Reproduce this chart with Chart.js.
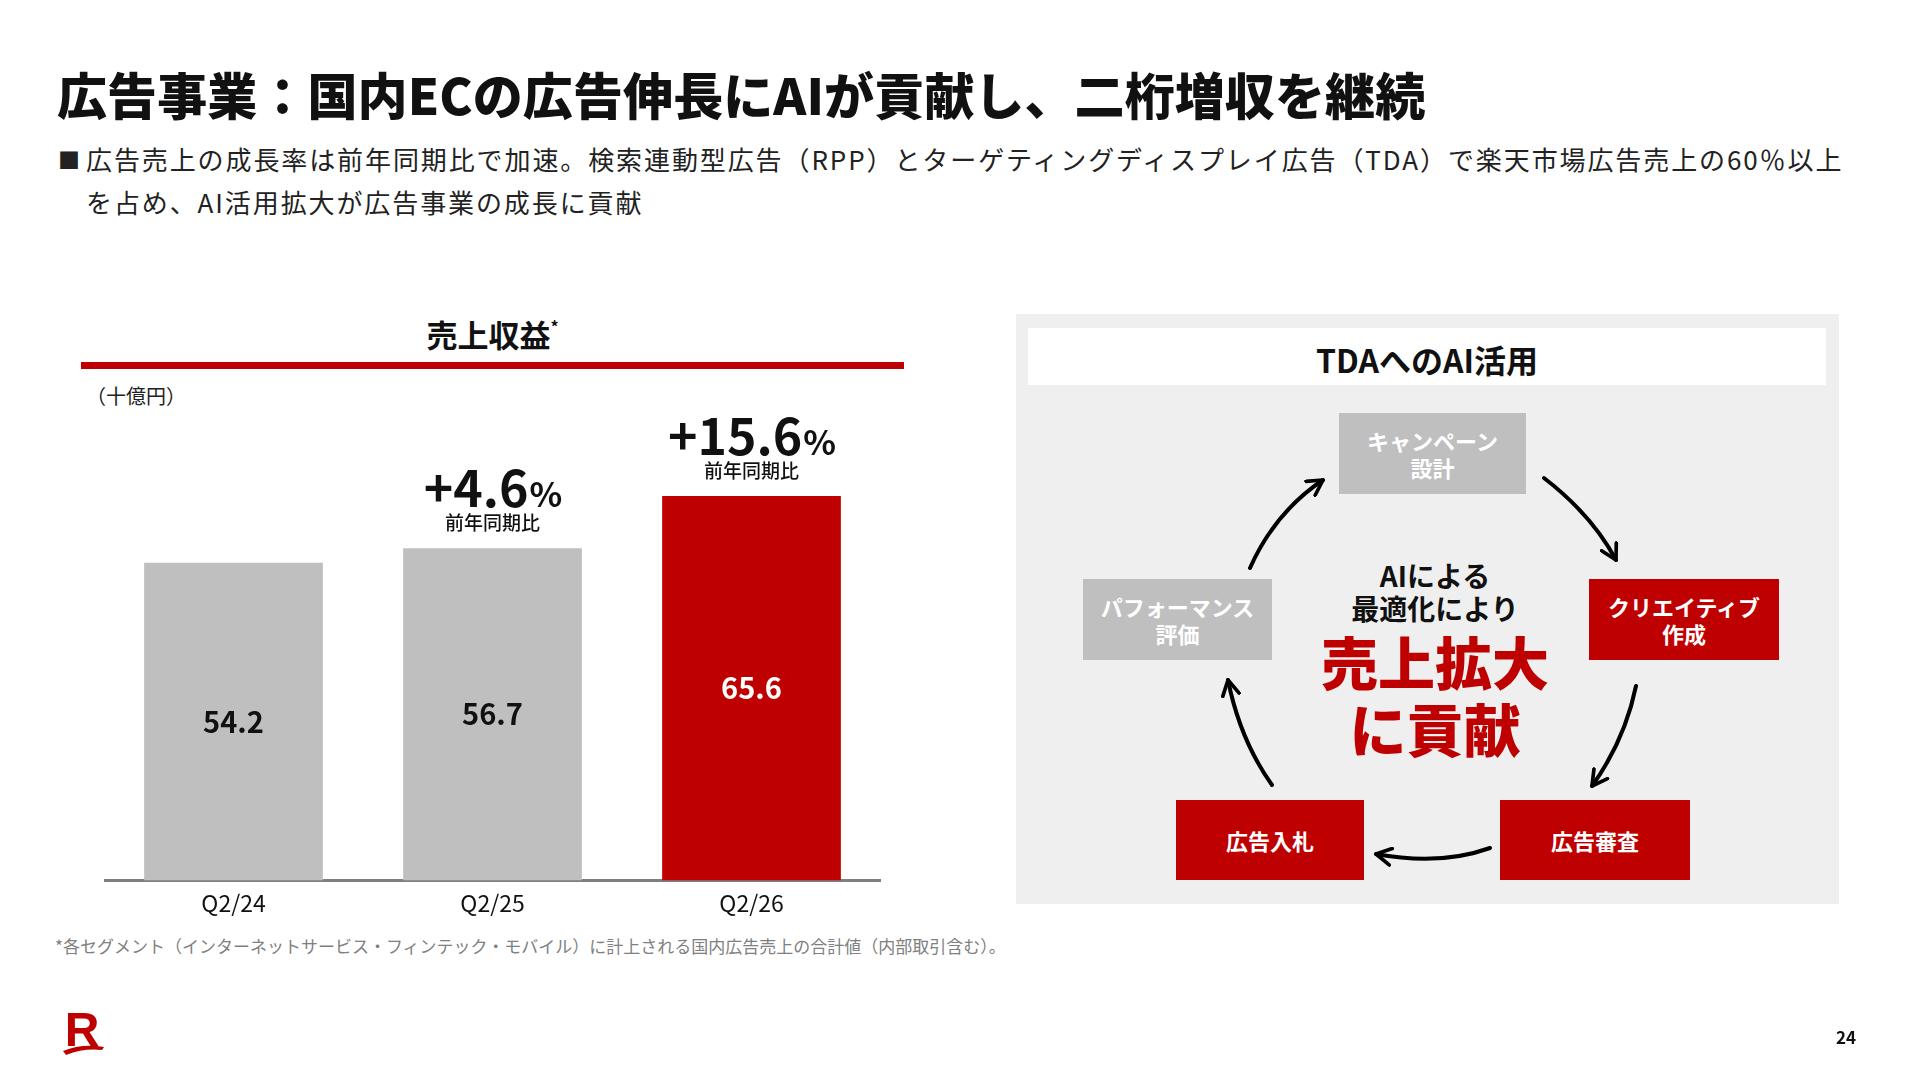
<!DOCTYPE html>
<html lang="ja">
<head>
<meta charset="utf-8">
<script src="https://cdn.jsdelivr.net/npm/chart.js@4.4.1/dist/chart.umd.min.js"></script>
<style>
  html, body { margin: 0; padding: 0; }
  body {
    width: 1920px; height: 1080px; position: relative; overflow: hidden;
    background: #fff; color: #111;
    font-family: "Noto Sans CJK JP", "Noto Sans", sans-serif;
  }
  .abs { position: absolute; }
  #title { left: 57px; top: 57px; font-size: 50px; font-weight: 900; white-space: nowrap; letter-spacing: 0.1px; }
  #lead { left: 58px; top: 137px; width: 1820px; font-size: 26px; line-height: 43px; letter-spacing: 1.9px; color: #222; }
  #lead .bullet { position: absolute; left: 0; top: 0; font-size: 22px; }
  #lead .txt { margin-left: 28px; }
  #chartTitle { left: 81px; width: 823px; top: 311px; text-align: center; font-size: 31px; font-weight: 700; }
  #chartTitle sup { font-size: 16px; vertical-align: 14px; }
  #redRule { left: 81px; top: 362px; width: 823px; height: 7px; background: #bf0000; }
  #unit { left: 86px; top: 381px; font-size: 20px; color: #222; }
  #chartBox { left: 104px; top: 400px; width: 777px; height: 530px; }
  #note { left: 55px; top: 933px; font-size: 17px; color: #808080; white-space: nowrap; }
  #page { left: 1836px; top: 1024px; font-size: 17px; font-weight: 700; }
  #panel { left: 1016px; top: 314px; width: 823px; height: 590px; background: #efefef; }
  #panelHead { left: 12px; top: 14px; width: 798px; height: 57px; background: #fff;
    display: flex; align-items: center; justify-content: center; font-size: 32px; font-weight: 700; padding-top: 4px; box-sizing: border-box; }
  .step { display: flex; align-items: center; justify-content: center; text-align: center;
    color: #fff; font-weight: 700; font-size: 22px; line-height: 27px; }
  .gray { background: #bfbfbf; }
  .red { background: #bf0000; }
  .mid { left: 1285px; width: 300px; text-align: center; font-weight: 700; white-space: nowrap; }
  .mid.small { font-size: 28px; line-height: 28px; }
  .mid.big { font-size: 57px; line-height: 57px; color: #bf0000; font-weight: 900; }
</style>
</head>
<body>

<div id="title" class="abs">広告事業：国内ECの広告伸長にAIが貢献し、二桁増収を継続</div>
<div id="lead" class="abs"><span class="bullet">■</span><div class="txt">広告売上の成長率は前年同期比で加速。検索連動型広告（RPP）とターゲティングディスプレイ広告（TDA）で楽天市場広告売上の60％以上<br>を占め、AI活用拡大が広告事業の成長に貢献</div></div>

<div id="chartTitle" class="abs">売上収益<sup>*</sup></div>
<div id="redRule" class="abs"></div>
<div id="unit" class="abs">（十億円）</div>
<div id="chartBox" class="abs"><canvas id="revenueChart"></canvas></div>
<div id="note" class="abs">*各セグメント（インターネットサービス・フィンテック・モバイル）に計上される国内広告売上の合計値（内部取引含む）。</div>

<div id="panel" class="abs">
  <div id="panelHead" class="abs">TDAへのAI活用</div>
</div>
<div class="abs step gray" style="left:1339px;top:413px;width:187px;height:81px;">キャンペーン<br>設計</div>
<div class="abs step gray" style="left:1083px;top:579px;width:189px;height:81px;">パフォーマンス<br>評価</div>
<div class="abs step red" style="left:1589px;top:579px;width:190px;height:81px;">クリエイティブ<br>作成</div>
<div class="abs step red" style="left:1176px;top:800px;width:188px;height:80px;">広告入札</div>
<div class="abs step red" style="left:1500px;top:800px;width:190px;height:80px;">広告審査</div>

<div class="abs mid small" style="top:561px;">AIによる</div>
<div class="abs mid small" style="top:594px;">最適化により</div>
<div class="abs mid big" style="top:632px;">売上拡大</div>
<div class="abs mid big" style="top:699px;">に貢献</div>

<svg class="abs" style="left:0;top:0" width="1920" height="1080">
  <defs>
    <marker id="head" viewBox="0 0 12 12" refX="10" refY="6" markerWidth="5" markerHeight="5" orient="auto" markerUnits="strokeWidth">
      <path d="M1,1 L10,6 L1,11" fill="none" stroke="#000" stroke-width="2.2" stroke-linecap="round" stroke-linejoin="round"/>
    </marker>
  </defs>
  <g fill="none" stroke="#000" stroke-width="4" stroke-linecap="round" marker-end="url(#head)">
    <path d="M1250,568 Q1275,512 1323,480"/>
    <path d="M1544,478 Q1592,515 1616,560"/>
    <path d="M1636,686 Q1625,740 1592,786"/>
    <path d="M1490,848 Q1440,866 1376,854"/>
    <path d="M1272,785 Q1240,740 1228,680"/>
  </g>
  <g>
    <text x="82" y="1046" text-anchor="middle" font-family="Liberation Sans, Arial, sans-serif" font-weight="700" font-size="48" fill="#bf0000">R</text>
    <path d="M63,1051 Q82,1043 104,1047 L102,1050 Q84,1048 66,1055 Z" fill="#bf0000"/>
  </g>
</svg>
<div id="page" class="abs">24</div>

<script>
const FONT = '"Noto Sans CJK JP", "Noto Sans", sans-serif';

// data (billion yen)
const categories = ['Q2/24', 'Q2/25', 'Q2/26'];
const revenue = [54.2, 56.7, 65.6];
const yoyGrowth = [null, 4.6, 15.6];   // % vs same period of prior year
const yoyLabel = '前年同期比';

const barColors = ['#bfbfbf', '#bfbfbf', '#bf0000'];

const barLabels = {
  id: 'barLabels',
  afterDatasetsDraw(chart) {
    const ctx = chart.ctx;
    const meta = chart.getDatasetMeta(0);
    ctx.save();
    meta.data.forEach(function (bar, i) {
      // value inside the bar
      ctx.fillStyle = i === 2 ? '#ffffff' : '#111111';
      ctx.font = '700 29px ' + FONT;
      ctx.textAlign = 'center';
      ctx.textBaseline = 'middle';
      ctx.fillText(revenue[i].toFixed(1), bar.x, (bar.y + bar.base) / 2);

      // growth callout above the bar
      if (yoyGrowth[i] == null) return;
      const num = '+' + yoyGrowth[i].toFixed(1);
      ctx.fillStyle = '#111111';
      ctx.font = '700 50px ' + FONT;
      const w1 = ctx.measureText(num).width;
      ctx.font = '700 34px ' + FONT;
      const w2 = ctx.measureText('%').width;
      const x0 = bar.x - (w1 + w2) / 2;
      const base = bar.y - 41;
      ctx.textAlign = 'left';
      ctx.textBaseline = 'alphabetic';
      ctx.font = '700 50px ' + FONT;
      ctx.fillText(num, x0, base);
      ctx.font = '700 34px ' + FONT;
      ctx.fillText('%', x0 + w1 + 1, base);
      ctx.font = '500 19px ' + FONT;
      ctx.textAlign = 'center';
      ctx.textBaseline = 'middle';
      ctx.fillText(yoyLabel, bar.x, bar.y - 25);
    });
    ctx.restore();
  }
};

const revenueChart = new Chart(document.getElementById('revenueChart').getContext('2d'), {
  type: 'bar',
  data: {
    labels: categories,
    datasets: [{
      data: revenue,
      backgroundColor: barColors,
      borderWidth: 0,
      barPercentage: 0.69,
      categoryPercentage: 1.0
    }]
  },
  options: {
    responsive: true,
    maintainAspectRatio: false,
    animation: false,
    layout: { padding: { top: 0, bottom: 12, left: 0, right: 0 } },
    plugins: {
      legend: { display: false },
      tooltip: { enabled: false }
    },
    scales: {
      x: {
        grid: { display: false },
        border: { display: true, color: '#7f7f7f', width: 3 },
        ticks: { color: '#111', padding: 1, font: { size: 23, family: FONT } }
      },
      y: { display: false, min: 0, max: 82 }
    }
  },
  plugins: [barLabels]
});
</script>
</body>
</html>
